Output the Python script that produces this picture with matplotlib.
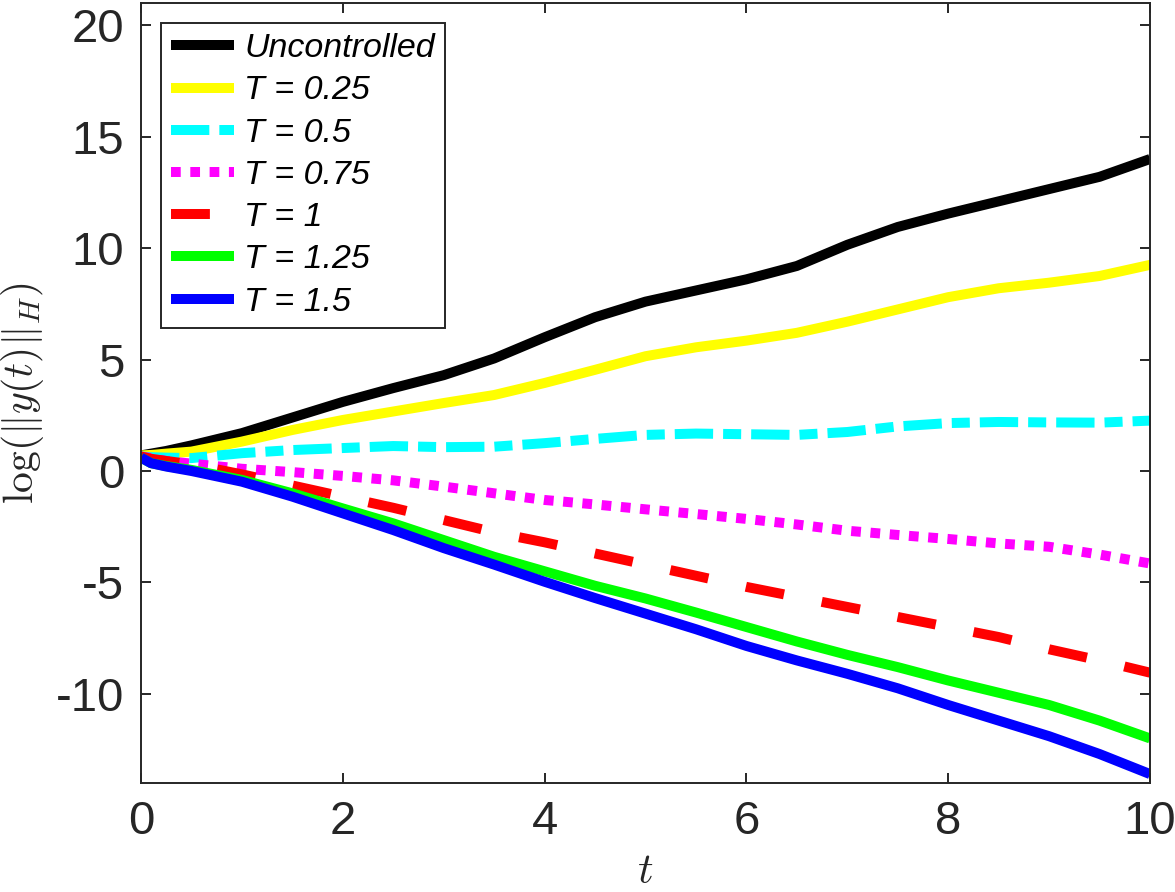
import matplotlib
matplotlib.use('Agg')
import matplotlib.pyplot as plt

plt.rcParams['font.family'] = ['Liberation Sans', 'DejaVu Sans']
plt.rcParams['mathtext.fontset'] = 'cm'
plt.rcParams['axes.unicode_minus'] = False
plt.rcParams['lines.scale_dashes'] = False

# ---- data ----
t = [0, 0.1, 0.25, 0.5, 1, 1.5, 2, 2.5, 3, 3.5, 4, 4.5, 5, 5.5, 6, 6.5, 7, 7.5, 8, 8.5, 9, 9.5, 10]

uncontrolled = [0.7, 0.78, 0.9, 1.15, 1.7, 2.4, 3.1, 3.72, 4.3, 5.05, 6.0, 6.9, 7.6, 8.1, 8.6, 9.2, 10.15, 10.95, 11.55, 12.1, 12.65, 13.2, 14.0]
T_025 = [0.7, 0.72, 0.78, 0.87, 1.32, 1.84, 2.29, 2.67, 3.05, 3.41, 3.95, 4.54, 5.15, 5.55, 5.85, 6.2, 6.7, 7.25, 7.8, 8.2, 8.45, 8.75, 9.25]
T_05 = [0.65, 0.62, 0.6, 0.58, 0.8, 0.94, 1.03, 1.12, 1.07, 1.09, 1.25, 1.44, 1.62, 1.68, 1.65, 1.62, 1.75, 2.0, 2.15, 2.2, 2.18, 2.17, 2.26]
T_075 = [0.65, 0.58, 0.45, 0.33, 0.1, -0.05, -0.22, -0.42, -0.7, -1.0, -1.3, -1.5, -1.72, -1.93, -2.15, -2.4, -2.68, -2.87, -3.05, -3.25, -3.4, -3.75, -4.15]
T_1 = [0.65, 0.55, 0.45, 0.3, -0.15, -0.65, -1.15, -1.65, -2.2, -2.75, -3.2, -3.7, -4.2, -4.7, -5.2, -5.65, -6.1, -6.55, -7.0, -7.45, -8.0, -8.5, -9.05]
T_125 = [0.6, 0.35, 0.22, 0.05, -0.4, -1.0, -1.68, -2.35, -3.1, -3.85, -4.5, -5.15, -5.72, -6.35, -7.0, -7.65, -8.25, -8.8, -9.4, -9.95, -10.5, -11.2, -12.0]
T_15 = [0.6, 0.35, 0.2, 0.0, -0.48, -1.15, -1.9, -2.65, -3.46, -4.2, -4.97, -5.7, -6.4, -7.1, -7.85, -8.5, -9.1, -9.75, -10.5, -11.2, -11.9, -12.7, -13.6]

labels = ['Uncontrolled', 'T = 0.25', 'T = 0.5', 'T = 0.75', 'T = 1', 'T = 1.25', 'T = 1.5']
xticks = [0, 2, 4, 6, 8, 10]
yticks = [-10, -5, 0, 5, 10, 15, 20]

series = [uncontrolled, T_025, T_05, T_075, T_1, T_125, T_15]
colors = ['#000000', '#ffff00', '#00ffff', '#ff00ff', '#ff0000', '#00ff00', '#0000ff']
dash_styles = ['-', '-', (0, (27.6, 7.2, 13, 7.2)), (0, (7.0, 6.9)), (0, (28, 27.7)), '-', '-']

W, H = 1175, 892
fig = plt.figure(figsize=(W / 100, H / 100), dpi=100)
ax = fig.add_axes([141 / W, 109 / H, (1150 - 141) / W, (889 - 109) / H])

lw = 7.2
for y, c, ls, lab in zip(series, colors, dash_styles, labels):
    ax.plot(t, y, color=c, linestyle=ls, linewidth=lw, label=lab,
            solid_capstyle='butt', dash_capstyle='butt', solid_joinstyle='round')

ax.set_xlim(0, 10)
ax.set_ylim(-14, 21)
ax.set_xticks(xticks)
ax.set_yticks(yticks)
ax.set_xticklabels([str(v) for v in xticks])
ax.set_yticklabels([str(v) for v in yticks])

gray = (0.15, 0.15, 0.15)
for s in ax.spines.values():
    s.set_color(gray)
    s.set_linewidth(1.4)
ax.tick_params(direction='in', length=7.2, width=1.4, color=gray, labelcolor=gray,
               labelsize=34, top=True, right=True)
ax.tick_params(axis='y', pad=12)
ax.tick_params(axis='x', pad=12)

ax.set_xlabel(r'$t$', fontsize=31, color=gray)
ax.set_ylabel(r'$\log(\|y(t)\|_H)$', fontsize=30, color=gray)
ax.xaxis.set_label_coords(0.5, -0.088)
ax.yaxis.set_label_coords(-0.094, 0.5)

leg = ax.legend(loc='upper left', bbox_to_anchor=(161 / W, 869 / H), bbox_transform=fig.transFigure,
                prop={'style': 'italic', 'size': 24.5}, handlelength=1.85, handletextpad=0.3,
                labelspacing=0.33, borderpad=0.3, borderaxespad=0, fancybox=False,
                frameon=True, framealpha=1)
leg.get_frame().set_edgecolor(gray)
leg.get_frame().set_linewidth(1.4)

fig.savefig('out.png', dpi=100)
